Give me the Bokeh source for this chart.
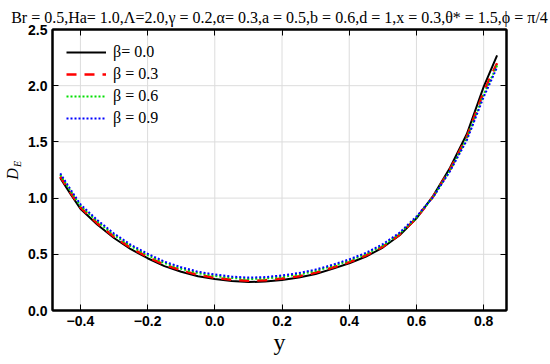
from bokeh.plotting import figure
from bokeh.models import (Range1d, LinearAxis, FixedTicker, Legend, LegendItem,
                          Title, CustomJSTickFormatter)
from bokeh.embed import file_html
from bokeh.resources import INLINE

# ---- data ----
y_vals = [-0.46, -0.43, -0.40, -0.35, -0.30, -0.25, -0.20, -0.15, -0.10, -0.05,
          0.00, 0.05, 0.10, 0.15, 0.20, 0.25, 0.30, 0.35, 0.40, 0.45,
          0.50, 0.55, 0.60, 0.65, 0.70, 0.75, 0.80, 0.82, 0.84]
de_b00 = [1.180, 1.040, 0.905, 0.765, 0.645, 0.545, 0.465, 0.395, 0.345, 0.305,
          0.280, 0.262, 0.253, 0.257, 0.272, 0.293, 0.325, 0.370, 0.420, 0.480,
          0.560, 0.670, 0.820, 1.020, 1.270, 1.570, 1.990, 2.130, 2.270]
de_b03 = [1.192, 1.052, 0.917, 0.777, 0.657, 0.557, 0.477, 0.407, 0.357, 0.317,
          0.292, 0.274, 0.265, 0.269, 0.284, 0.305, 0.337, 0.381, 0.430, 0.490,
          0.568, 0.675, 0.822, 1.015, 1.255, 1.545, 1.945, 2.075, 2.200]
de_b06 = [1.207, 1.067, 0.932, 0.792, 0.672, 0.572, 0.492, 0.422, 0.372, 0.332,
          0.307, 0.289, 0.280, 0.284, 0.299, 0.320, 0.352, 0.395, 0.443, 0.502,
          0.578, 0.683, 0.828, 1.012, 1.245, 1.530, 1.920, 2.050, 2.180]
de_b09 = [1.220, 1.080, 0.945, 0.805, 0.685, 0.585, 0.505, 0.435, 0.385, 0.345,
          0.320, 0.302, 0.293, 0.297, 0.312, 0.333, 0.364, 0.406, 0.455, 0.513,
          0.590, 0.693, 0.836, 1.010, 1.240, 1.515, 1.900, 2.030, 2.165]

beta_labels = ["\u03b2= 0.0", "\u03b2 = 0.3", "\u03b2 = 0.6", "\u03b2 = 0.9"]
x_ticks = [-0.4, -0.2, 0.0, 0.2, 0.4, 0.6, 0.8]
y_ticks = [0.0, 0.5, 1.0, 1.5, 2.0, 2.5]
title_text = ("Br = 0.5,Ha= 1.0,\u039b=2.0,\u03b3 = 0.2,\u03b1= 0.3,a = 0.5,b = 0.6,"
              "d = 1,x = 0.3,\u03b8* = 1.5,\u03d5 = \u03c0/4")

X0, X1 = -0.483, 0.868
Y0, Y1 = 0.0, 2.5

p = figure(width=550, height=364, output_backend="svg", toolbar_location=None,
           x_range=Range1d(X0, X1), y_range=Range1d(Y0, Y1),
           min_border_left=50, min_border_right=44, min_border_top=29,
           min_border_bottom=54, x_axis_location=None, y_axis_location=None)
p.background_fill_color = "white"
p.border_fill_color = "white"
p.outline_line_color = "black"
p.outline_line_width = 2

def mk_axis(horizontal, show_labels):
    ax = LinearAxis()
    ticks = x_ticks if horizontal else y_ticks
    nminor = 4 if horizontal else 5
    ax.ticker = FixedTicker(ticks=ticks, num_minor_ticks=nminor)
    ax.axis_line_color = "black"
    ax.axis_line_width = 2
    ax.major_tick_in = 6
    ax.major_tick_out = 0
    ax.minor_tick_in = 3
    ax.minor_tick_out = 0
    ax.major_tick_line_color = "black"
    ax.minor_tick_line_color = "black"
    ax.major_tick_line_width = 1
    ax.axis_label_text_color = "black"
    ax.formatter = CustomJSTickFormatter(code="return tick.toFixed(1).replace('-', '\u2212');")
    if show_labels:
        ax.major_label_text_font = "Liberation Sans"
        ax.major_label_text_font_style = "bold"
        ax.major_label_text_font_size = "14px"
        ax.major_label_text_color = "black"
        ax.major_label_standoff = 5
    else:
        ax.major_label_text_font_size = "0px"
        ax.major_label_text_alpha = 0
        ax.major_label_standoff = 0
    return ax

bx = mk_axis(True, True)
bx.axis_label = "y"
bx.axis_label_text_font = "Liberation Serif"
bx.axis_label_text_font_style = "normal"
bx.axis_label_text_font_size = "24px"
bx.axis_label_standoff = 0
p.add_layout(bx, "below")

# left axis: its label is the subscript "E" of D_E
ly = mk_axis(False, True)
ly.axis_label = "\u2003\u2009E"
ly.axis_label_text_font = "Liberation Serif"
ly.axis_label_text_font_style = "italic"
ly.axis_label_text_font_size = "10px"
ly.axis_label_standoff = 2
p.add_layout(ly, "left")

# bare outer left axis carrying the main letter "D" of D_E
dx = LinearAxis(ticker=FixedTicker(ticks=[]))
dx.axis_line_color = None
dx.major_tick_line_color = None
dx.minor_tick_line_color = None
dx.major_tick_in = 0
dx.major_tick_out = 0
dx.minor_tick_in = 0
dx.minor_tick_out = 0
dx.major_label_text_font_size = "0px"
dx.major_label_standoff = 0
dx.axis_label = "D\u2002"
dx.axis_label_text_font = "Liberation Serif"
dx.axis_label_text_font_style = "italic"
dx.axis_label_text_font_size = "16px"
dx.axis_label_text_color = "black"
dx.axis_label_standoff = -11
p.add_layout(dx, "left")

p.add_layout(mk_axis(True, False), "above")
p.add_layout(mk_axis(False, False), "right")

t = Title(text=title_text, align="center", offset=-3, standoff=7,
          text_font="Liberation Serif", text_font_size="16px",
          text_font_style="normal", text_color="black")
p.add_layout(t, "above")

p.xgrid.grid_line_color = None
p.ygrid.grid_line_color = None
for tx in x_ticks:
    p.line([tx, tx], [Y0, Y1], line_color="#dcdcdc", line_width=1)
for ty in y_ticks:
    p.line([X0, X1], [ty, ty], line_color="#dcdcdc", line_width=1)

r0 = p.line(y_vals, de_b00, line_color="black", line_width=2)
r1 = p.line(y_vals, de_b03, line_color="#ff0000", line_width=2.5, line_dash="10 8")
r2 = p.line(y_vals, de_b06, line_color="#00e000", line_width=2, line_dash="2 2")
r3 = p.line(y_vals, de_b09, line_color="#0000ff", line_width=2, line_dash="2 2")

legend = Legend(items=[LegendItem(label=beta_labels[i], renderers=[r])
                       for i, r in enumerate([r0, r1, r2, r3])],
                location="top_left")
legend.label_text_font = "Liberation Serif"
legend.label_text_font_size = "16px"
legend.label_text_font_style = "normal"
legend.label_text_color = "black"
legend.background_fill_alpha = 0
legend.border_line_alpha = 0
legend.glyph_width = 40
legend.glyph_height = 16
legend.label_height = 16
legend.spacing = 4
legend.padding = 6
legend.margin = 8
legend.label_standoff = 7
p.add_layout(legend)

open("out.html", "w").write(file_html(p, INLINE))
